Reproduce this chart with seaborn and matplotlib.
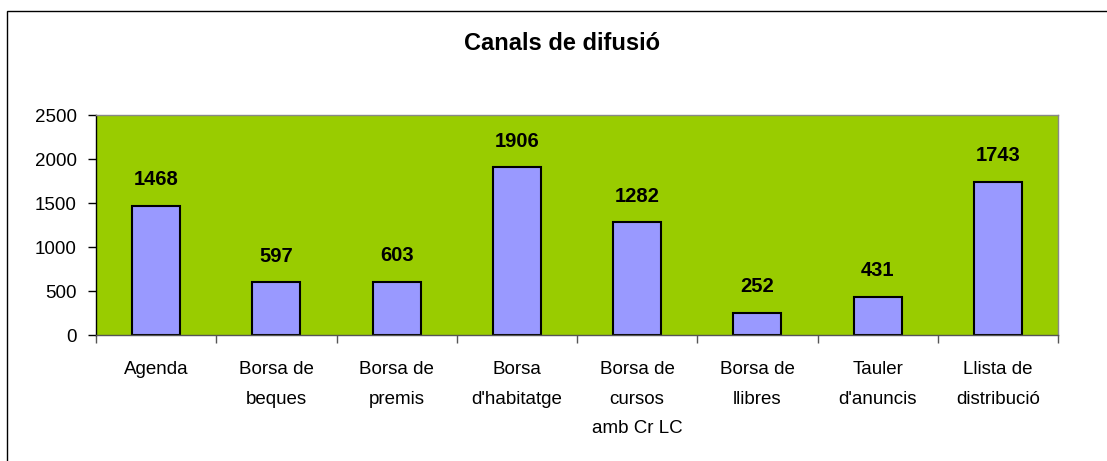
import matplotlib.pyplot as plt
import pandas as pd
import seaborn as sns
from matplotlib.patches import Rectangle

categories = ['Agenda', 'Borsa de\nbeques', 'Borsa de\npremis', "Borsa\nd'habitatge",
              'Borsa de\ncursos\namb Cr LC', 'Borsa de\nllibres', 'Tauler\nd\'anuncis',
              'Llista de\ndistribució']
values = [1468, 597, 603, 1906, 1282, 252, 431, 1743]

plt.rcParams['font.family'] = ['Liberation Sans', 'DejaVu Sans']

df = pd.DataFrame({'canal': categories, 'n': values})

fig = plt.figure(figsize=(11.07, 4.61), dpi=100)
ax = fig.add_axes([96 / 1107, 1 - 335 / 461, (1058 - 96) / 1107, (335 - 115) / 461])
ax.set_facecolor('#99CC00')

sns.barplot(data=df, x='canal', y='n', color='#9999FF', edgecolor='black',
            linewidth=1.5, width=0.4, saturation=1, ax=ax)

for i, v in enumerate(values):
    ax.annotate(str(v), (i, v), xytext=(0, 12), textcoords='offset points',
                ha='center', va='bottom', fontsize=14.5, fontweight='bold')

ax.set_xlim(-0.5, len(values) - 0.5)
ax.set_ylim(0, 2500)
ax.set_yticks(range(0, 2501, 500))
ax.set_xlabel('')
ax.set_ylabel('')
ax.tick_params(axis='y', labelsize=13.5, length=6, width=1, direction='out', pad=8)
ax.set_xticks([i + 0.5 for i in range(-1, len(values))], minor=True)
ax.tick_params(axis='x', which='major', length=0, labelsize=13.5, pad=19)
ax.tick_params(axis='x', which='minor', length=6, width=1, color='#555555')
for lbl in ax.get_xticklabels():
    lbl.set_linespacing(1.95)

ax.spines['left'].set_color('black')
ax.spines['bottom'].set_color('#555555')
ax.spines['top'].set_color('#888888')
ax.spines['right'].set_color('#888888')
for s in ax.spines.values():
    s.set_linewidth(1)

fig.text(562 / 1107, 1 - 44 / 461, 'Canals de difusió', ha='center', va='center',
         fontsize=17, fontweight='bold')

fig.patches.append(Rectangle((7 / 1107, -0.1), 1.2, 1 - 11 / 461 + 0.1,
                             transform=fig.transFigure, fill=False,
                             edgecolor='black', linewidth=1))

fig.savefig('out.png', dpi=100)
